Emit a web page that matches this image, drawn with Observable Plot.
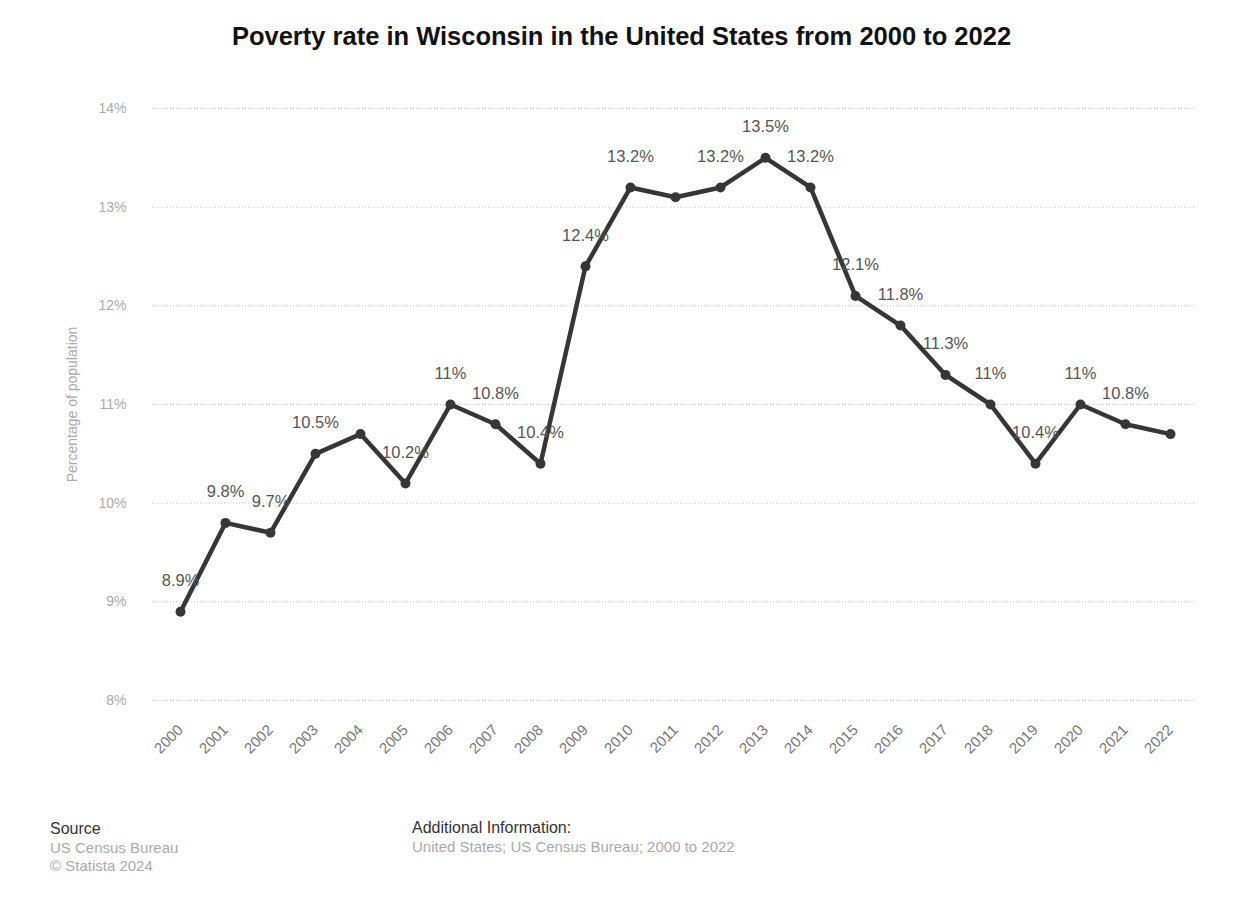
<!DOCTYPE html>
<html>
<head>
<meta charset="utf-8">
<script src="https://cdn.jsdelivr.net/npm/d3@7"></script>
<script src="https://cdn.jsdelivr.net/npm/@observablehq/plot@0.6"></script>
<style>
  body { margin: 0; background: #fff; font-family: "Liberation Sans", Arial, sans-serif; }
  #wrap { position: relative; width: 1243px; height: 918px; }
  #title { position: absolute; top: 22px; left: 0; width: 1243px; text-align: center; font-weight: bold; font-size: 25.5px; color: #111; }
  #chart { position: absolute; top: 80px; left: 0; }
  .foot { position: absolute; font-size: 15px; color: #aaa; line-height: 18.5px; }
  .foot b { color: #333; font-weight: normal; font-size: 16px; }
</style>
</head>
<body>
<div id="wrap">
  <div id="title">Poverty rate in Wisconsin in the United States from 2000 to 2022</div>
  <div id="chart"></div>
  <div class="foot" style="left:50px; top:820px;"><b>Source</b><br>US Census Bureau<br>© Statista 2024</div>
  <div class="foot" style="left:412px; top:819px;"><b>Additional Information:</b><br>United States; US Census Bureau; 2000 to 2022</div>
</div>
<script>
const years = ["2000","2001","2002","2003","2004","2005","2006","2007","2008","2009","2010","2011","2012","2013","2014","2015","2016","2017","2018","2019","2020","2021","2022"];
const rates = [8.9, 9.8, 9.7, 10.5, 10.7, 10.2, 11, 10.8, 10.4, 12.4, 13.2, 13.1, 13.2, 13.5, 13.2, 12.1, 11.8, 11.3, 11, 10.4, 11, 10.8, 10.7];
const labels = ["8.9%","9.8%","9.7%","10.5%","","10.2%","11%","10.8%","10.4%","12.4%","13.2%","","13.2%","13.5%","13.2%","12.1%","11.8%","11.3%","11%","10.4%","11%","10.8%",""];
const yTicks = [8, 9, 10, 11, 12, 13, 14];

const data = years.map((y, i) => ({year: y, rate: rates[i], label: labels[i]}));

const chart = Plot.plot({
  width: 1243,
  height: 720,
  marginTop: 28,
  marginBottom: 100,
  marginLeft: 152,
  marginRight: 48,
  style: {fontFamily: "Liberation Sans, Arial, sans-serif", background: "transparent"},
  x: {type: "point", domain: years, padding: 0, insetLeft: 23, insetRight: 20},
  y: {domain: [8, 14]},
  marks: [
    Plot.gridY(yTicks, {stroke: "#c8c8c8", strokeOpacity: 1, strokeDasharray: "1,2"}),
    Plot.axisY(yTicks, {tickSize: 0, tickPadding: 26, tickFormat: d => d + "%", fontSize: 14, fill: "#aaa", label: null}),
    Plot.text(["Percentage of population"], {frameAnchor: "left", textAnchor: "middle", rotate: -90, dx: -80, fontSize: 14, fill: "#aaa"}),
    Plot.axisX(years, {tickSize: 0, tickRotate: -45, tickPadding: 27, fontSize: 15, fill: "#777", label: null}),
    Plot.line(data, {x: "year", y: "rate", stroke: "#363636", strokeWidth: 4.5}),
    Plot.dot(data, {x: "year", y: "rate", r: 5, fill: "#363636"}),
    Plot.text(data, {x: "year", y: "rate", text: "label", dy: -31, fontSize: 16.5, fill: "#555"})
  ]
});
document.getElementById("chart").appendChild(chart);
</script>
</body>
</html>
